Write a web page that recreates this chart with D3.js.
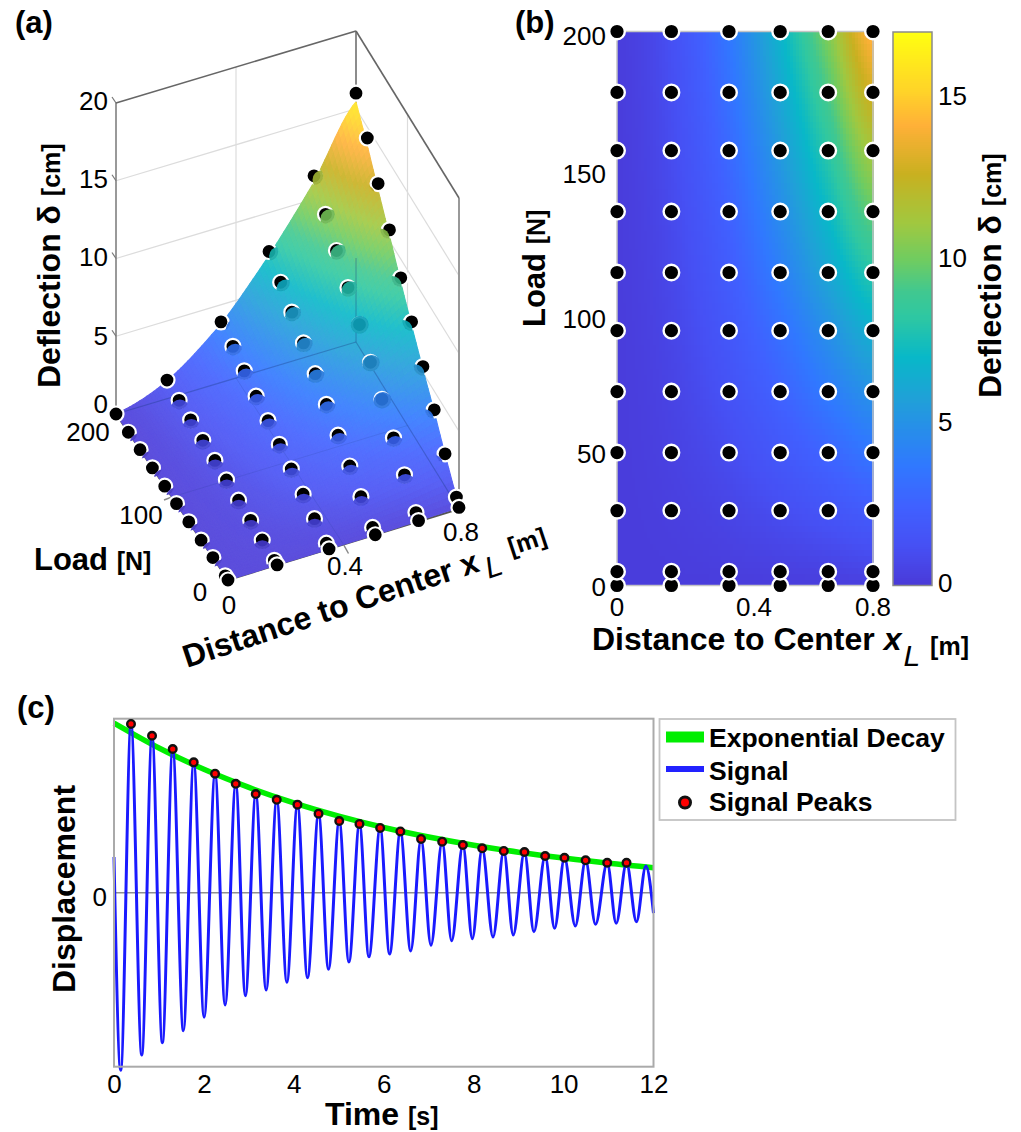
<!DOCTYPE html>
<html><head><meta charset="utf-8">
<script src="https://cdn.jsdelivr.net/npm/d3@7/dist/d3.min.js"></script>
<style>html,body{margin:0;padding:0;background:#fff}svg{display:block}text{font-family:"Liberation Sans",Arial,sans-serif;fill:#000}.b{font-weight:700}</style>
</head><body><svg id="c" width="1021" height="1132"></svg>
<script>
// ---------- data ----------
const distanceValues=[0,0.17,0.35,0.51,0.66,0.8];
const loadValues=[0,5,27,48,70,92,113,135,157,178,200];
const deflection=[
[0,0,0,0,0.05,0.1],
[0,0.03,0.1,0.2,0.3,0.5],
[0,0.16,0.5,1.0,1.55,2.1],
[0,0.3,0.95,1.85,2.8,3.8],
[0,0.42,1.4,2.65,4.1,5.4],
[0,0.55,1.8,3.45,5.3,7.1],
[0,0.68,2.2,4.3,6.6,8.8],
[0,0.8,2.6,5.1,7.8,10.7],
[0,0.94,3.05,5.9,9.0,12.5],
[0,1.07,3.5,6.7,10.2,14.3],
[0,1.2,3.9,7.5,11.5,16]];
const colorStopValues=[0,1.2,2.4,3.65,5.7,7,8.3,9,10,11.1,12.6,14.1,15.2,17];
const colorStopColors=["#4a3ad8","#4650f4","#4060ff","#3078ff","#20a0d8","#08b8c8","#30c8a0","#40c890","#70cc60","#a0c840","#c8b020","#ffb038","#ffd428","#ffff10"];
const peakTimes=[0.378,0.846,1.306,1.773,2.248,2.708,3.153,3.62,4.08,4.55,5.01,5.46,5.92,6.37,6.83,7.30,7.76,8.19,8.67,9.13,9.59,10.02,10.49,10.97,11.40];
const peakValues=[0.970,0.902,0.826,0.749,0.684,0.626,0.567,0.534,0.506,0.454,0.412,0.395,0.372,0.352,0.309,0.293,0.274,0.255,0.240,0.234,0.211,0.201,0.186,0.172,0.172];
const lastPeak=[11.83,0.154];
const troughTimes=[0.149,0.617,1.076,1.543,2.004,2.471,2.923,3.384,3.845,4.304,4.771,5.225,5.67,6.13,6.60,7.05,7.51,7.97,8.43,8.88,9.34,9.80,10.26,10.71,11.17,11.62];
const troughValues=[-1.02,-0.933,-0.862,-0.793,-0.716,-0.645,-0.592,-0.559,-0.515,-0.489,-0.440,-0.398,-0.368,-0.352,-0.335,-0.302,-0.276,-0.264,-0.255,-0.243,-0.224,-0.205,-0.191,-0.182,-0.176,-0.167];
const signalStart=[0,0.205], signalEnd=[12,-0.117];
const decayTimes=[0,1,2,3,4,5,6,7,8,9,10,11,12];
const decayValues=[0.975,0.832,0.709,0.605,0.516,0.44,0.375,0.32,0.273,0.233,0.199,0.169,0.144];
const zTicks=[0,5,10,15,20], loadTicksA=[0,100,200], distTicks=[0,0.4,0.8];
const loadTicksB=[0,50,100,150,200], barTicks=[0,5,10,15], timeTicks=[0,2,4,6,8,10,12];
const legendLabels=["Exponential Decay","Signal","Signal Peaks"];

// ---------- layout / style ----------
const svg=d3.select("#c");
const color=d3.scaleLinear().domain(colorStopValues).range(colorStopColors).clamp(true);
const colIndex=d3.scaleLinear().domain(distanceValues).range(d3.range(distanceValues.length));
const rowIndex=d3.scaleLinear().domain(loadValues).range(d3.range(loadValues.length));
function cr(a,b,c,d,t){return 0.5*(2*b+(c-a)*t+(2*a-5*b+4*c-d)*t*t+(3*b-a-3*c+d)*t*t*t);}
function rowAt(r,ci){const i=Math.min(4,Math.floor(ci)),t=ci-i;const R=deflection[r];
  const a=R[Math.max(0,i-1)],b=R[i],c=R[i+1],d=R[Math.min(5,i+2)];return cr(a,b,c,d,t);}
function surf(x,F){const ri=rowIndex(F),ci=colIndex(x),r=Math.min(9,Math.floor(ri)),t=ri-r;
  return Math.max(0,rowAt(r,ci)*(1-t)+rowAt(r+1,ci)*t);}

function label(g,x,y,parts,opts={}){
  const t=g.append("text").attr("transform",`translate(${x},${y})`+(opts.rot?` rotate(${opts.rot})`:""))
    .attr("text-anchor",opts.anchor||"start");
  parts.forEach(p=>{const s=t.append("tspan").text(p.t).attr("font-size",p.s);
    if(p.b!==false)s.attr("font-weight",700);
    if(p.i)s.attr("font-style","italic");
    if(p.dy)s.attr("dy",p.dy);
    if(p.dx)s.attr("dx",p.dx);});
  return t;
}
const tickSize=26;
function tick(g,x,y,txt,anchor="middle"){
  g.append("text").attr("x",x).attr("y",y).attr("dy",".36em").attr("font-size",tickSize).attr("text-anchor",anchor).text(txt);
}
[["(a)",15,33],["(b)",515,33],["(c)",17,718]].forEach(d=>label(svg,d[1],d[2],[{t:d[0],s:31}]));

// ---------- panel (a) ----------
const A=svg.append("g");
const P00=[228,580],P10=[459,509],P01=[116,414],P11=[356,342];
const uS=d3.scaleLinear().domain([0,0.8]).range([0,1]);
const vS=d3.scaleLinear().domain([0,200]).range([0,1]);
const zS=d3.scaleLinear().domain([0,20]).range([0,-311]);
function proj(x,F,z){const u=uS(x),v=vS(F);
  const k=i=>(1-u)*(1-v)*P00[i]+u*(1-v)*P10[i]+(1-u)*v*P01[i]+u*v*P11[i];
  return [k(0),k(1)+zS(z)];}
const ln=(g,a,b,col,w,op=1)=>g.append("line").attr("x1",a[0]).attr("y1",a[1]).attr("x2",b[0]).attr("y2",b[1]).attr("stroke",col).attr("stroke-width",w).attr("stroke-opacity",op);
// walls
zTicks.slice(1,4).forEach(z=>{
  ln(A,proj(0,200,z),proj(0.8,200,z),"#dcdcdc",1.2);
  ln(A,proj(0.8,200,z),proj(0.8,0,z),"#dcdcdc",1.2);
});
ln(A,proj(0.4,200,0),proj(0.4,200,20),"#dcdcdc",1.2);
ln(A,proj(0.8,100,0),proj(0.8,100,20),"#dcdcdc",1.2);
ln(A,proj(0,200,0),proj(0,200,20),"#999",2);
ln(A,proj(0.8,200,0),proj(0.8,200,20),"#8c8c8c",2);
ln(A,proj(0.8,0,0),proj(0.8,0,20),"#999",2);
ln(A,proj(0,200,20),proj(0.8,200,20),"#666",1.6);
ln(A,proj(0.8,200,20),proj(0.8,0,20),"#666",1.6);
ln(A,proj(0,0,0),proj(0.8,0,0),"#555",2);
ln(A,proj(0,0,0),proj(0,200,0),"#555",2);
zTicks.forEach(z=>{const p=proj(0,200,z);ln(A,p,[p[0]-4,p[1]-6],"#777",1.2);});
{const p=proj(0.4,0,0);ln(A,p,[p[0]+5,p[1]+9],"#888",1.5);
 const q=proj(0,100,0);ln(A,q,[q[0]-8,q[1]+3],"#888",1.5);}
// surface
const surfaceDrop=0.965, nu=70, nv=60;
const wash=c=>d3.interpolateRgb(color(c),"#fff")(0.1);
const mesh=[];
for(let i=0;i<nu;i++)for(let j=0;j<nv;j++){
  const x0=0.8*i/nu,x1=0.8*(i+1)/nu,F0=200*j/nv,F1=200*(j+1)/nv;
  const zm=surf((x0+x1)/2,(F0+F1)/2);
  const c=[[x0,F0],[x1,F0],[x1,F1],[x0,F1]].map(q=>proj(q[0],q[1],surf(q[0],q[1])*surfaceDrop));
  mesh.push({c,zm});
}
A.append("g").selectAll("path").data(mesh).join("path")
 .attr("d",d=>"M"+d.c.map(p=>p[0].toFixed(2)+","+p[1].toFixed(2)).join("L")+"Z")
 .attr("fill",d=>wash(d.zm)).attr("stroke",d=>wash(d.zm)).attr("stroke-width",1.1).attr("stroke-linejoin","round");
// see-through lines
const see="#1a3a80";
ln(A,proj(0,200,0),proj(0.8,200,0),see,1.2,.35);
ln(A,proj(0.8,200,0),proj(0.8,0,0),see,1.2,.35);
ln(A,proj(0.8,200,0),proj(0.8,200,5.4),see,1.6,.25);
ln(A,proj(0.4,0,0),proj(0.4,200,0),see,1,.14);
ln(A,proj(0,100,0),proj(0.8,100,0),see,1,.14);
// points
const R=8.8;
const occlusion=[ // covered fraction of a marker: row by load, column by distance
[.0,.0,.0,.0,.0,.0],
[.1,.4,.4,.4,.4,.0],
[.12,.45,.45,.48,.48,.12],
[.12,.48,.48,.5,.52,.25],
[.12,.48,.5,.55,.85,.4],
[.12,.48,.5,.6,.85,.35],
[.12,.5,.55,.65,.95,.35],
[.12,.5,.55,.7,.75,.3],
[.12,.5,.55,.7,.7,.05],
[.12,.5,.55,.5,.65,.0],
[.0,.0,.1,.4,.5,.0]];
const defs=svg.append("defs");
const pts=[];
d3.range(10,-1,-1).forEach(j=>distanceValues.forEach((x,i)=>{
  const z=deflection[j][i];const p=proj(x,loadValues[j],z);pts.push({i,j,z,p,x,F:loadValues[j]});}));
const pg=A.append("g");
pts.forEach((d,n)=>{
  pg.append("circle").attr("cx",d.p[0]).attr("cy",d.p[1]).attr("r",7.5).attr("fill","#000").attr("stroke","#fff").attr("stroke-width",2.2);
  const c=occlusion[d.j][d.i]; if(!c) return;
  let dir;
  if(d.i===5) dir=[-.75,.66];
  else if(d.j===10) dir=[.9,.44];
  else if(d.i===0) dir=[.7,.7];
  else {const t=Math.min(1,d.z/8);dir=[.7*t,1-.3*t];}
  const off=2*R*(1-c);
  defs.append("clipPath").attr("id","dc"+n).append("circle").attr("cx",d.p[0]).attr("cy",d.p[1]).attr("r",R+.3);
  pg.append("circle").attr("clip-path",`url(#dc${n})`).attr("cx",d.p[0]+dir[0]*off).attr("cy",d.p[1]+dir[1]*off).attr("r",R+.6)
    .attr("fill",d3.color(color(d.z)).darker(0.3)).attr("fill-opacity",.93);
});
// ticks (a)
const zLabelShift={0:-10.5,5:-1,10:-1.5,15:-2,20:-2};
zTicks.forEach(z=>{const p=proj(0,200,z);tick(A,108,p[1]+zLabelShift[z],z,"end");});
tick(A,88,432,"200");tick(A,141,515,"100");tick(A,200,592,"0");
tick(A,229,605,"0");tick(A,345,566,"0.4");tick(A,461,532,"0.8");
label(A,60,388,[{t:"Deflection δ ",s:32},{t:"[cm]",s:25}],{rot:-90});
label(A,34,570,[{t:"Load ",s:31},{t:"[N]",s:25}]);
label(A,187,668,[{t:"Distance to Center ",s:32},{t:"x",s:32},{t:"L",s:30,i:true,b:false,dy:10,dx:5},{t:"[m]",s:25,dy:-15,dx:12}],{rot:-18.3});

// ---------- panel (b) ----------
const B=svg.append("g");
const xB=d3.scaleLinear().domain([0,0.8]).range([617,873]);
const yB=d3.scaleLinear().domain([0,200]).range([585.5,31.5]);
const mapDrop=0.89;
const cells=[];
const nbx=86,nby=92;
for(let i=0;i<nbx;i++)for(let j=0;j<nby;j++)cells.push({i,j,x:0.8*i/nbx,x1:0.8*(i+1)/nbx,F:200*j/nby,F1:200*(j+1)/nby});
B.append("g").attr("shape-rendering","crispEdges").selectAll("rect").data(cells).join("rect")
 .attr("x",d=>xB(d.x)).attr("y",d=>yB(d.F1)).attr("width",d=>xB(d.x1)-xB(d.x)+.5).attr("height",d=>yB(d.F)-yB(d.F1)+.5)
 .attr("fill",d=>color(surf((d.x+d.x1)/2,(d.F+d.F1)/2)*mapDrop+0.15));
B.append("rect").attr("x",617).attr("y",31.5).attr("width",256).attr("height",554).attr("fill","none").attr("stroke","#c4c4c4").attr("stroke-width",1.5);
const ptsB=[];
loadValues.forEach(F=>distanceValues.forEach(x=>ptsB.push({x,F})));
B.append("g").selectAll("circle").data(ptsB).join("circle")
 .attr("cx",d=>xB(d.x)).attr("cy",d=>yB(d.F)).attr("r",7.8).attr("fill","#000").attr("stroke","#fff").attr("stroke-width",2.4);
// colour bar
const yC=d3.scaleLinear().domain([0,17]).range([585.5,32]);
const barSteps=d3.range(0,17,0.0625);
B.append("g").attr("shape-rendering","crispEdges").selectAll("rect").data(barSteps).join("rect")
 .attr("x",893).attr("width",39).attr("y",d=>yC(d+0.0625)).attr("height",d=>yC(d)-yC(d+0.0625)+.6).attr("fill",d=>color(d));
B.append("rect").attr("x",893).attr("y",32).attr("width",39).attr("height",553.5).attr("fill","none").attr("stroke","#8a8a8a").attr("stroke-width",1.5);
const yShiftB={0:1,50:7,100:10,150:4,200:4}, xShiftB={0:0,0.4:9,0.8:0}, yShiftBar={0:-3,5:-1,10:-2,15:-1};
loadTicksB.forEach(v=>tick(B,606,yB(v)+yShiftB[v],v,"end"));
distTicks.forEach(v=>tick(B,xB(v)+xShiftB[v],607,v));
barTicks.forEach(v=>tick(B,938,yC(v)+yShiftBar[v],v,"start"));
label(B,545,327,[{t:"Load ",s:31},{t:"[N]",s:25}],{rot:-90});
label(B,1001,398,[{t:"Deflection δ ",s:32},{t:"[cm]",s:25}],{rot:-90});
label(B,592,650,[{t:"Distance to Center ",s:32},{t:"x",s:32,i:true},{t:"L",s:30,i:true,b:false,dy:16,dx:2},{t:"[m]",s:25,dy:-11,dx:10}]);

// ---------- panel (c) ----------
const C=svg.append("g");
const xT=d3.scaleLinear().domain([0,12]).range([114,653.5]);
const yD=d3.scaleLinear().domain([-1,1]).range([1066.7,718.7]);
C.append("line").attr("x1",114).attr("x2",653.5).attr("y1",yD(0)).attr("y2",yD(0)).attr("stroke","#909090").attr("stroke-width",1.5);
const lineGen=d3.line().x(d=>xT(d[0])).y(d=>yD(d[1])).curve(d3.curveMonotoneX);
C.append("path").attr("d",lineGen(decayTimes.map((t,i)=>[t,decayValues[i]]))).attr("fill","none").attr("stroke","#00ee00").attr("stroke-width",5.5);
const signal=[signalStart]
 .concat(peakTimes.map((t,i)=>[t,peakValues[i]]),[lastPeak],troughTimes.map((t,i)=>[t,troughValues[i]]),[signalEnd])
 .sort((a,b)=>a[0]-b[0]);
C.append("path").attr("d",lineGen(signal)).attr("fill","none").attr("stroke","#1a1aff").attr("stroke-width",3);
C.append("rect").attr("x",114).attr("y",718.7).attr("width",539.5).attr("height",348).attr("fill","none").attr("stroke","#aaa").attr("stroke-width",2);
C.append("g").selectAll("circle").data(peakTimes).join("circle")
 .attr("cx",d=>xT(d)).attr("cy",(d,i)=>yD(peakValues[i])).attr("r",3.8).attr("fill","#f00").attr("stroke","#111").attr("stroke-width",2.4);
const xAx=C.append("g").attr("transform","translate(0,1066.7)").call(d3.axisBottom(xT).tickValues(timeTicks).tickSize(0).tickFormat(d3.format("d")));
xAx.select(".domain").remove();
xAx.selectAll("text").attr("font-size",tickSize).attr("y",8).attr("dy","0.71em").style("font-family",'"Liberation Sans",Arial,sans-serif');
const yAx=C.append("g").attr("transform","translate(114,0)").call(d3.axisLeft(yD).tickValues([0]).tickSize(0).tickFormat(d3.format("d")));
yAx.select(".domain").remove();
yAx.selectAll("text").attr("font-size",tickSize).attr("x",-7).attr("dy","0.48em").style("font-family",'"Liberation Sans",Arial,sans-serif');
label(C,75,993,[{t:"Displacement",s:32}],{rot:-90});
label(C,325,1125,[{t:"Time ",s:32},{t:"[s]",s:25}]);
// legend
C.append("rect").attr("x",659.5).attr("y",719).attr("width",296).attr("height",101).attr("fill","#fff").attr("stroke","#c4c4c4").attr("stroke-width",1.8);
C.append("line").attr("x1",666).attr("x2",704).attr("y1",737).attr("y2",737).attr("stroke","#00ee00").attr("stroke-width",11);
C.append("line").attr("x1",666).attr("x2",704).attr("y1",769).attr("y2",769).attr("stroke","#2222ff").attr("stroke-width",6);
C.append("circle").attr("cx",685).attr("cy",802.5).attr("r",5.5).attr("fill","#f00").attr("stroke","#111").attr("stroke-width",3);
legendLabels.forEach((t,i)=>label(C,709,[747,780,811][i],[{t,s:26.5}]));
</script></body></html>
